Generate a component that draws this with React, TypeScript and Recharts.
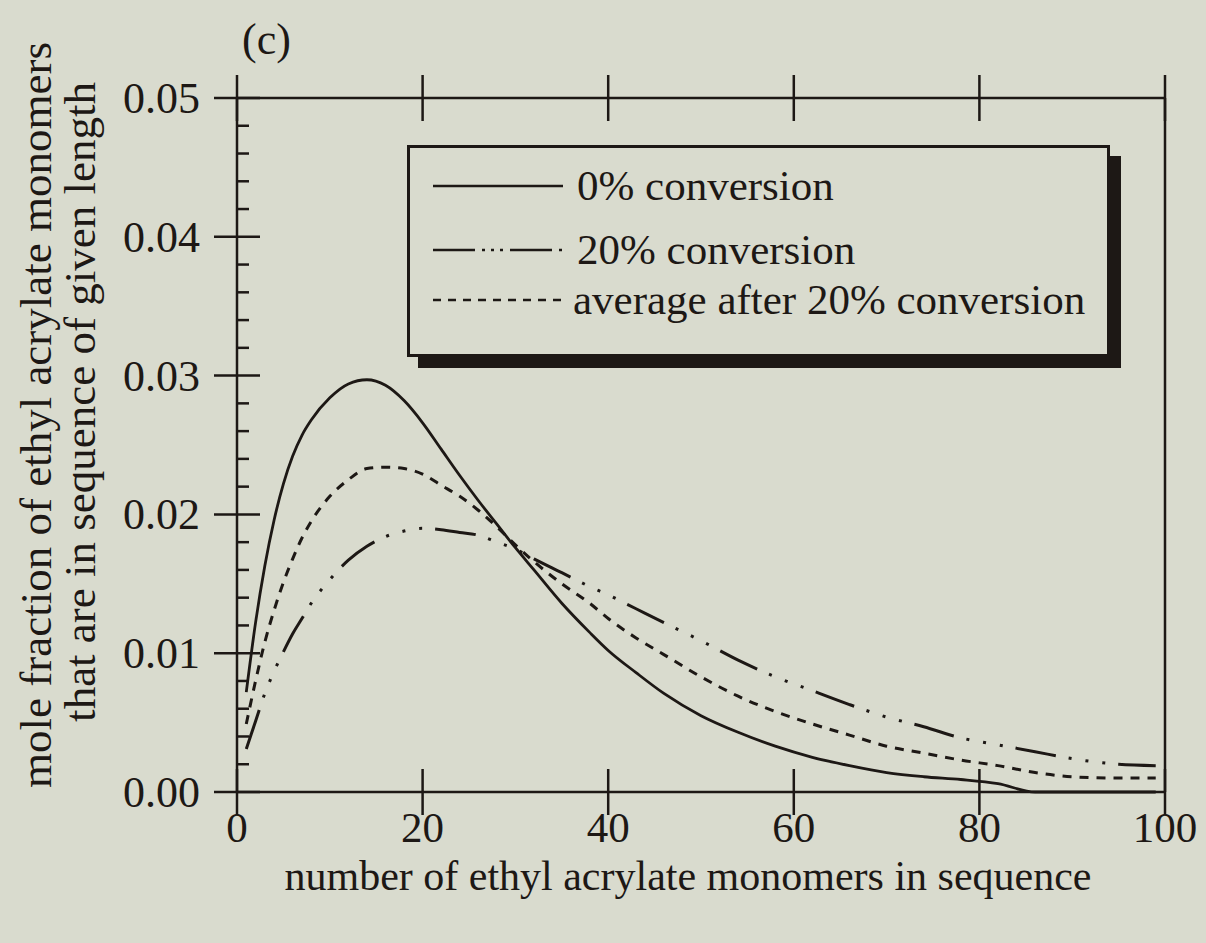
import React from "react";
import { LineChart, Line, XAxis, YAxis } from "recharts";

const INK = "#1d1815";
const PAPER = "#d9dbce";
const SERIF = '"Liberation Serif", "Times New Roman", serif';

// sequence length (number of ethyl acrylate monomers)
const lengths = [
  1, 2, 3, 4, 5, 6, 7, 8, 10, 12, 14, 16, 18, 20, 22, 24, 26, 28, 30, 32, 35,
  38, 40, 43, 46, 50, 54, 58, 62, 66, 70, 74, 78, 82, 86, 90, 95, 99,
];

// 0% conversion
const conv0 = [
  0.0072, 0.0122, 0.0163, 0.0196, 0.0222, 0.0242, 0.0257, 0.0268, 0.0284,
  0.0294, 0.0297, 0.0293, 0.0282, 0.0266, 0.0247, 0.0228, 0.021, 0.0193,
  0.0176, 0.016, 0.0136, 0.0115, 0.0102, 0.0086, 0.0071, 0.0055, 0.0043,
  0.0033, 0.0025, 0.0019, 0.0014, 0.0011, 0.0009, 0.0006, 0.0, 0.0, 0.0, 0.0,
];

// 20% conversion
const conv20 = [
  0.0031, 0.0051, 0.0071, 0.0087, 0.0101, 0.0114, 0.0125, 0.0136, 0.0153,
  0.0167, 0.0177, 0.0184, 0.0188, 0.019, 0.0189, 0.0187, 0.0185, 0.018,
  0.0175, 0.0168, 0.0158, 0.0148, 0.0142, 0.0132, 0.0122, 0.0109, 0.0095,
  0.0083, 0.0073, 0.0063, 0.0054, 0.0047, 0.0039, 0.0034, 0.0029, 0.0024,
  0.002, 0.0019,
];

// average after 20% conversion
const avg20 = [
  0.0049, 0.008, 0.0108, 0.0131, 0.0151, 0.0168, 0.0183, 0.0195, 0.0213,
  0.0225, 0.0233, 0.0234, 0.0233, 0.0229, 0.0221, 0.0213, 0.0203, 0.0191,
  0.0178, 0.0166, 0.015, 0.0136, 0.0125, 0.0111, 0.0099, 0.0083, 0.0069,
  0.0058, 0.0049, 0.0041, 0.0033, 0.0028, 0.0023, 0.0019, 0.0014, 0.0011,
  0.001, 0.001,
];

const xTicks = [0, 20, 40, 60, 80, 100];
// majors every 0.01, four minors in between
const yTicks = Array.from({ length: 26 }, (_, i) => Number((i * 0.002).toFixed(3)));

const rows = lengths.map((x, i) => ({
  x,
  c0: conv0[i],
  c20: conv20[i],
  avg: avg20[i],
}));

const MAJOR = 23;
const MINOR = 12;
const AXIS_W = 2.5;
const isMajor = (v: number) => Math.abs(v * 100 - Math.round(v * 100)) < 1e-6;

const LeftTick = ({ x, y, payload }: any) => {
  const v = payload.value;
  if (!isMajor(v))
    return <line x1={x} x2={x + MINOR} y1={y} y2={y} stroke={INK} strokeWidth={AXIS_W} />;
  return (
    <g>
      <line x1={x - MAJOR} x2={x + MAJOR} y1={y} y2={y} stroke={INK} strokeWidth={AXIS_W} />
      <text x={x - 37} y={y + 15} textAnchor="end" fontFamily={SERIF} fontSize={44} fill={INK}>
        {v.toFixed(2)}
      </text>
    </g>
  );
};

const RightTick = ({ x, y, payload }: any) => {
  const v = payload.value;
  if (!isMajor(v))
    return <line x1={x - MINOR} x2={x} y1={y} y2={y} stroke={INK} strokeWidth={AXIS_W} />;
  return <line x1={x - MAJOR} x2={x + MAJOR} y1={y} y2={y} stroke={INK} strokeWidth={AXIS_W} />;
};

const BottomTick = ({ x, y, payload }: any) => (
  <g>
    <line x1={x} x2={x} y1={y - MAJOR} y2={y + MAJOR} stroke={INK} strokeWidth={AXIS_W} />
    <text x={x} y={y + 50} textAnchor="middle" fontFamily={SERIF} fontSize={43} fill={INK}>
      {payload.value}
    </text>
  </g>
);

const TopTick = ({ x, y }: any) => (
  <line x1={x} x2={x} y1={y - MAJOR} y2={y + MAJOR} stroke={INK} strokeWidth={AXIS_W} />
);

const yTitle = () => (
  <g fontFamily={SERIF} fontSize={45} fill={INK}>
    <text transform="translate(51,415) rotate(-90)" textAnchor="middle">
      mole fraction of ethyl acrylate monomers
    </text>
    <text transform="translate(95,402) rotate(-90)" textAnchor="middle">
      that are in sequence of given length
    </text>
  </g>
);

const xTitle = () => (
  <text x={688} y={890} textAnchor="middle" fontFamily={SERIF} fontSize={42} fill={INK}>
    number of ethyl acrylate monomers in sequence
  </text>
);

const legendRows = [
  { label: "0% conversion", dash: undefined, y: 186, tx: 577 },
  { label: "20% conversion", dash: "42 7 3 6 3 6 3 7", y: 250, tx: 577 },
  { label: "average after 20% conversion", dash: "8 7", y: 300, tx: 573 },
];

const axisLine = { stroke: INK, strokeWidth: AXIS_W };

export default function App() {
  return (
    <div style={{ position: "fixed", inset: 0, background: PAPER, overflow: "hidden" }}>
      <div style={{ position: "absolute", left: 0, top: 0 }}>
        <LineChart
          width={1206}
          height={943}
          data={rows}
          margin={{ top: 68, right: 21, bottom: 121, left: 117 }}
        >
          <XAxis
            xAxisId="b"
            dataKey="x"
            type="number"
            domain={[0, 100]}
            ticks={xTicks}
            interval={0}
            height={30}
            tickSize={0}
            tickMargin={0}
            tickLine={false}
            axisLine={axisLine}
            tick={(p: any) => <BottomTick {...p} />}
            label={xTitle}
          />
          <XAxis
            xAxisId="t"
            orientation="top"
            dataKey="x"
            type="number"
            domain={[0, 100]}
            ticks={xTicks}
            interval={0}
            height={30}
            tickSize={0}
            tickMargin={0}
            tickLine={false}
            axisLine={axisLine}
            tick={(p: any) => <TopTick {...p} />}
          />
          <YAxis
            yAxisId="l"
            type="number"
            domain={[0, 0.05]}
            ticks={yTicks}
            interval={0}
            width={120}
            tickSize={0}
            tickMargin={0}
            tickLine={false}
            axisLine={axisLine}
            tick={(p: any) => <LeftTick {...p} />}
            label={yTitle}
          />
          <YAxis
            yAxisId="r"
            orientation="right"
            type="number"
            domain={[0, 0.05]}
            ticks={yTicks}
            interval={0}
            width={20}
            tickSize={0}
            tickMargin={0}
            tickLine={false}
            axisLine={axisLine}
            tick={(p: any) => <RightTick {...p} />}
          />
          <Line
            xAxisId="b"
            yAxisId="l"
            dataKey="c0"
            type="monotone"
            stroke={INK}
            strokeWidth={2.8}
            dot={false}
            isAnimationActive={false}
          />
          <Line
            xAxisId="b"
            yAxisId="l"
            dataKey="c20"
            type="monotone"
            stroke={INK}
            strokeWidth={3}
            strokeDasharray="41 13 3 14 3 14 3 13"
            dot={false}
            isAnimationActive={false}
          />
          <Line
            xAxisId="b"
            yAxisId="l"
            dataKey="avg"
            type="monotone"
            stroke={INK}
            strokeWidth={3}
            strokeDasharray="9 8"
            dot={false}
            isAnimationActive={false}
          />
        </LineChart>
      </div>

      {/* legend box with drop shadow */}
      <div
        style={{
          position: "absolute",
          left: 407,
          top: 145,
          width: 703,
          height: 212,
          boxSizing: "border-box",
          border: `3px solid ${INK}`,
          boxShadow: `11px 11px 0 ${INK}`,
        }}
      />
      <svg
        width={1206}
        height={943}
        style={{ position: "absolute", left: 0, top: 0, pointerEvents: "none" }}
      >
        <text x={242} y={54} fontFamily={SERIF} fontSize={44} fill={INK}>
          (c)
        </text>
        {legendRows.map((r) => (
          <g key={r.label}>
            <line
              x1={433}
              x2={563}
              y1={r.y}
              y2={r.y}
              stroke={INK}
              strokeWidth={2.6}
              strokeDasharray={r.dash}
            />
            <text x={r.tx} y={r.y + 14} fontFamily={SERIF} fontSize={43} fill={INK}>
              {r.label}
            </text>
          </g>
        ))}
      </svg>
    </div>
  );
}
